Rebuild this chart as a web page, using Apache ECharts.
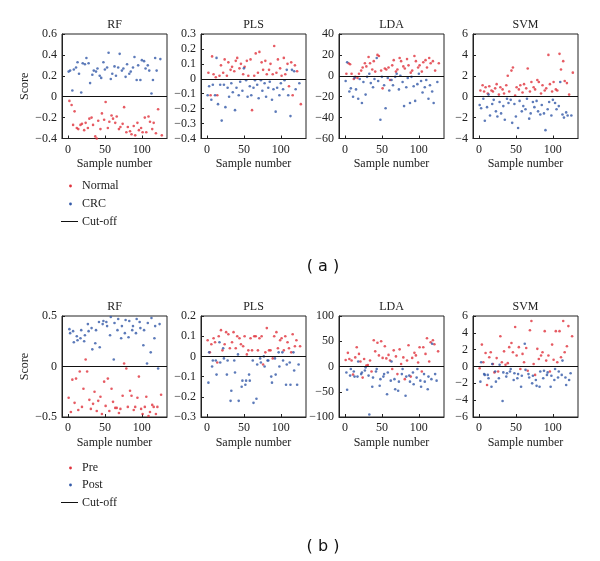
<!DOCTYPE html>
<html><head><meta charset="utf-8">
<script src="https://cdn.jsdelivr.net/npm/echarts@6/dist/echarts.min.js"></script>
<style>html,body{margin:0;padding:0;background:#fff}#c{width:600px;height:561px}</style>
</head><body><div id="c"></div>
<script>
// ---------- DATA ----------
const methods = ['RF', 'PLS', 'LDA', 'SVM'];
const xTicks = [0, 50, 100];

// (a) sample numbers
const xNormal = [2,5,7,9,12,14,17,19,22,24,27,29,32,34,37,39,41,44,46,49,51,54,56,59,61,64,66,69,71,74,76,79,81,84,86,89,91,94,96,99,101,104,106,109,111,114,116,119,122,127];
const xCRC = [1,3,6,8,11,13,15,18,20,23,25,28,30,33,35,38,40,43,45,48,50,53,55,58,60,63,65,68,70,73,75,78,80,83,85,88,90,93,95,98,100,103,105,108,110,113,115,118,120,125];

const rfNormal = [-0.04,-0.08,-0.27,-0.14,-0.30,-0.31,-0.27,-0.26,-0.32,-0.25,-0.30,-0.21,-0.20,-0.27,-0.38,-0.40,-0.23,-0.31,-0.16,-0.22,-0.05,-0.30,-0.24,-0.18,-0.21,-0.25,-0.19,-0.31,-0.29,-0.26,-0.10,-0.34,-0.29,-0.33,-0.36,-0.28,-0.37,-0.25,-0.32,-0.30,-0.34,-0.20,-0.34,-0.19,-0.24,-0.31,-0.25,-0.35,-0.12,-0.37];
const rfCRC = [0.24,0.25,0.06,0.26,0.28,0.33,0.22,0.04,0.32,0.31,0.37,0.32,0.13,0.21,0.25,0.24,0.27,0.20,0.18,0.33,0.26,0.28,0.42,0.17,0.22,0.29,0.20,0.28,0.41,0.25,0.27,0.19,0.31,0.22,0.24,0.28,0.38,0.16,0.30,0.16,0.35,0.34,0.27,0.30,0.25,0.03,0.16,0.37,0.25,0.36];
const plsNormal = [0.04,-0.11,0.15,0.03,0.01,-0.11,0.02,0.09,0.04,0.13,0.02,0.11,0.06,0.08,0.05,0.12,0.14,0.07,0.10,0.03,0.08,0.12,0.02,0.13,-0.21,0.02,0.17,0.04,0.18,0.11,0.06,0.12,0.03,0.06,0.10,0.03,0.22,0.04,0.13,0.07,0.02,0.14,0.03,0.10,-0.05,0.11,-0.11,0.09,0.05,-0.17];
const plsCRC = [-0.11,-0.05,-0.14,-0.04,-0.11,0.14,-0.17,-0.04,-0.28,-0.04,-0.19,-0.06,-0.12,-0.03,-0.09,-0.21,-0.06,-0.11,-0.02,-0.08,0.07,-0.01,-0.12,-0.05,-0.11,-0.06,-0.01,-0.04,-0.13,-0.01,-0.08,-0.03,-0.12,-0.06,-0.02,-0.14,-0.07,-0.22,-0.06,-0.11,-0.03,-0.07,-0.01,0.06,-0.11,-0.25,0.06,0.05,-0.07,-0.03];
const ldaNormal = [2,12,11,2,-3,-1,-2,2,5,8,12,9,18,12,6,14,4,20,19,5,-12,7,6,8,-4,10,15,4,6,17,14,9,7,16,10,3,5,19,14,8,10,4,13,15,8,17,12,14,5,12];
const ldaCRC = [-5,13,-15,-12,-20,-2,-13,-22,-3,-26,-6,-18,-1,2,-7,-11,-3,17,-5,-42,-1,-9,-31,-2,-14,-4,-9,-1,2,-13,0,-6,-29,-11,-2,-26,-1,-10,-24,-8,2,-5,-16,-11,-4,-22,-9,-15,-26,-6];
const svmNormal = [0.6,1.1,0.5,0.9,0.3,1.0,0.6,0.5,0.8,1.2,0.2,0.9,0.7,0.3,1.1,2.0,0.5,2.5,2.8,0.1,0.9,0.7,1.1,0.4,1.2,0.8,2.7,0.5,1.4,0.9,0.7,1.6,1.4,0.3,1.1,0.6,0.8,4.0,1.2,0.5,1.4,0.7,0.6,4.1,2.6,3.4,1.5,1.3,0.2,2.3];
const svmCRC = [-0.8,-1.1,-0.2,-2.3,-1.0,0.2,-1.8,-0.7,-0.3,-1.4,-1.9,-0.5,-1.6,-0.9,-2.2,-0.2,-0.6,-0.3,-2.5,-0.7,-1.9,-3.0,-0.4,-1.4,-0.9,-1.2,-0.2,-2.1,-1.6,-0.5,-1.0,-0.4,-1.4,-1.7,-0.8,-1.6,-3.2,-1.2,-0.5,-1.8,-0.3,-0.6,-1.2,-0.9,1.4,-1.7,-2.0,-1.5,-1.8,-1.8];

// (b) sample numbers
const xPre = [1,4,6,9,11,14,16,19,21,24,26,29,31,34,36,39,41,44,46,49,51,54,56,59,61,64,66,69,71,74,76,79,81,84,86,89,91,94,96,99,101,104,106,109,111,114,116,119,121,126];
const xPost = [2,3,7,8,12,13,17,18,22,23,27,28,32,33,37,38,42,43,47,48,52,53,57,58,62,63,67,68,72,73,77,78,82,83,87,88,92,93,97,98,102,103,107,108,112,113,117,118,122,124];

const rfPre = [-0.31,-0.45,-0.13,-0.36,-0.12,-0.43,-0.05,-0.40,-0.22,0.07,-0.05,-0.33,-0.42,-0.37,-0.25,-0.44,-0.34,-0.30,-0.47,-0.15,-0.39,-0.12,-0.44,-0.22,-0.35,-0.41,-0.41,-0.46,-0.42,-0.29,0.03,-0.02,-0.40,-0.24,-0.29,-0.43,-0.40,-0.31,-0.10,-0.42,-0.47,-0.40,-0.30,-0.49,-0.45,-0.38,-0.40,-0.47,-0.40,-0.28];
const rfPost = [0.37,0.33,0.35,0.24,0.30,0.26,0.28,0.36,0.25,0.31,0.42,0.35,0.38,0.17,0.23,0.36,0.44,0.19,0.42,0.45,0.44,0.40,0.31,0.49,0.07,0.43,0.36,0.47,0.28,0.40,0.33,0.46,0.29,0.45,0.36,0.40,0.33,0.47,0.44,0.38,0.21,0.36,0.03,0.43,0.14,0.48,0.28,0.40,-0.02,0.42];
const plsPre = [0.08,0.02,0.06,0.09,0.07,-0.03,0.10,0.13,0.03,0.06,0.12,0.11,0.04,0.07,0.12,0.04,0.10,0.09,0.06,0.05,0.10,0.01,0.03,0.09,0.03,0.10,0.10,0.03,0.09,0.10,-0.04,0.02,0.14,0.03,0.03,-0.01,0.10,0.12,0.04,0.08,0.09,0.03,0.10,0.07,0.04,0.02,0.11,0.05,0.08,0.05];
const plsPost = [-0.13,0.02,-0.05,-0.02,-0.02,-0.09,0.07,-0.03,0.04,-0.01,-0.09,-0.02,-0.22,-0.17,-0.02,-0.08,0.01,-0.22,-0.15,-0.12,-0.14,-0.12,-0.09,-0.12,-0.02,-0.23,-0.21,-0.04,-0.01,-0.03,0.00,-0.05,-0.02,-0.02,-0.10,-0.13,-0.01,-0.09,0.02,-0.05,0.02,-0.02,-0.14,-0.04,-0.03,-0.14,0.02,-0.07,-0.14,-0.04];
const ldaPre = [13,27,15,12,-16,18,38,25,10,-22,15,2,3,12,-10,52,30,47,22,50,17,40,16,23,12,-5,32,20,-15,34,5,18,-25,12,42,-20,17,27,22,8,38,-10,38,25,56,10,48,52,44,30];
const ldaPost = [-12,-46,-18,-5,-10,-20,-20,10,-15,-12,-8,-2,-18,-95,-40,-22,-10,-5,-38,-25,-20,-15,-55,-12,-28,10,-25,-45,-48,-30,-15,-5,-58,-20,-18,-30,-12,-35,-22,-5,-28,-40,-15,-30,-45,-20,-25,45,-15,-28];
const svmPre = [-0.2,2.6,0.5,1.6,-2.2,1.1,1.7,0.3,-0.7,1.0,-0.6,3.6,0.5,1.8,0.2,0.4,2.3,2.8,1.7,4.7,1.3,2.3,-0.3,1.5,0.5,2.2,-0.5,4.3,5.4,0.3,-1.0,2.1,0.9,1.3,1.7,4.2,0.7,1.3,-0.6,2.6,0.8,4.2,0.5,4.2,1.1,5.4,1.7,2.4,4.8,3.6];
const svmPost = [-1.8,0.5,-0.9,-1.0,-1.0,-1.4,-2.4,0.3,-0.6,-1.8,-1.4,0.2,-4.1,-0.7,-1.2,-0.8,-0.6,-0.3,-1.6,-0.8,-1.4,-0.9,-2.4,-1.1,2.7,-0.4,-0.9,-1.3,-2.0,-1.1,-1.6,-2.3,-2.4,-0.6,-1.4,-0.5,-1.0,-0.7,-2.4,-1.1,-1.6,-0.3,-1.3,-0.6,-1.0,0.7,-1.3,-2.2,-1.6,-0.8];

// y-axis ranges
const yRangesA = [[-0.4,0.6,0.2],[-0.4,0.3,0.1],[-60,40,20],[-4,6,2]];
const yRangesB = [[-0.5,0.5,0.5],[-0.3,0.2,0.1],[-100,100,50],[-6,6,2]];

const legendA = ['Normal', 'CRC', 'Cut-off'];
const legendB = ['Pre', 'Post', 'Cut-off'];

// ---------- LAYOUT / STYLE ----------
const RED = '#e0323c', BLUE = '#3359a8', AX = '#222';
const SERIF = 'Liberation Serif';
const colLeft = [62, 201, 339, 473], colW = 105;
const rows = [{top: 34, h: 104.5, titleTop: 19, xNameGap: 19, yNameGap: 27}, {top: 316, h: 101, titleTop: 301, xNameGap: 20, yNameGap: 30}];

const panelData = [
  [[xNormal, rfNormal, xCRC, rfCRC], [xNormal, plsNormal, xCRC, plsCRC], [xNormal, ldaNormal, xCRC, ldaCRC], [xNormal, svmNormal, xCRC, svmCRC]],
  [[xPre, rfPre, xPost, rfPost], [xPre, plsPre, xPost, plsPost], [xPre, ldaPre, xPost, ldaPost], [xPre, svmPre, xPost, svmPost]]
];
const yRanges = [yRangesA, yRangesB];
const names = [legendA, legendB];

function fmt(v) {
  if (Math.abs(v) < 1e-9) return '0';
  return String(Math.round(v * 100) / 100).replace('-', '\u2212');
}
function zip(xs, ys) { return xs.map((x, i) => [x, ys[i]]); }

const grid = [], xAxis = [], yAxis = [], series = [], title = [];
let gi = 0;
for (let r = 0; r < 2; r++) {
  for (let c = 0; c < 4; c++) {
    const R = rows[r];
    grid.push({left: colLeft[c], top: R.top, width: colW, height: R.h, show: true, borderColor: AX, borderWidth: 1, containLabel: false});
    title.push({text: methods[c], left: colLeft[c] + colW / 2, top: R.titleTop, textAlign: 'center', padding: 0,
      textStyle: {fontFamily: SERIF, fontSize: 12, fontWeight: 'normal', color: AX}});
    xAxis.push({type: 'value', gridIndex: gi, min: -8, max: 134,
      name: 'Sample number', nameLocation: 'middle', nameGap: R.xNameGap,
      nameTextStyle: {fontFamily: SERIF, fontSize: 12, color: AX},
      axisLine: {show: true, onZero: false, lineStyle: {color: AX}},
      axisTick: {show: true, inside: true, length: 3, customValues: xTicks, lineStyle: {color: AX}},
      axisLabel: {customValues: xTicks, fontFamily: SERIF, fontSize: 12, color: AX, margin: 5},
      splitLine: {show: false}});
    const yr = yRanges[r][c];
    yAxis.push({type: 'value', gridIndex: gi, min: yr[0], max: yr[1], interval: yr[2],
      name: c === 0 ? 'Score' : '', nameLocation: 'middle', nameRotate: 90, nameGap: R.yNameGap,
      nameTextStyle: {fontFamily: SERIF, fontSize: 12, color: AX},
      axisLine: {show: true, onZero: false, lineStyle: {color: AX}},
      axisTick: {show: true, inside: true, length: 3, lineStyle: {color: AX}},
      axisLabel: {formatter: fmt, fontFamily: SERIF, fontSize: 12, color: AX, margin: 5},
      splitLine: {show: false}});
    const d = panelData[r][c];
    series.push({type: 'scatter', name: names[r][0], xAxisIndex: gi, yAxisIndex: gi, data: zip(d[0], d[1]),
      symbolSize: 2.6, itemStyle: {color: RED}, silent: true,
      markLine: {silent: true, symbol: 'none', label: {show: false}, lineStyle: {color: '#111', width: 1, type: 'solid'},
        data: [{yAxis: 0}]}});
    series.push({type: 'scatter', name: names[r][1], xAxisIndex: gi, yAxisIndex: gi, data: zip(d[2], d[3]),
      symbolSize: 2.6, itemStyle: {color: BLUE}, silent: true});
    gi++;
  }
}

// legends + captions as graphic elements
const graphic = [];
const legRows = [[186, 204, 221.5], [468, 485, 502.5]];
const caps = ['( a )', '( b )'];
const capY = [267, 547];
for (let r = 0; r < 2; r++) {
  const ys = legRows[r];
  graphic.push({type: 'circle', shape: {cx: 70.5, cy: ys[0], r: 1.4}, style: {fill: RED}});
  graphic.push({type: 'circle', shape: {cx: 70.5, cy: ys[1], r: 1.4}, style: {fill: BLUE}});
  graphic.push({type: 'line', shape: {x1: 61, y1: ys[2], x2: 78, y2: ys[2]}, style: {stroke: '#111', lineWidth: 1}});
  for (let k = 0; k < 3; k++) {
    graphic.push({type: 'text', x: 82, y: ys[k], style: {text: names[r][k], font: '12px "Liberation Serif"', fill: AX, verticalAlign: 'middle'}});
  }
  graphic.push({type: 'text', x: 323, y: capY[r], style: {text: caps[r], font: '16px "DejaVu Sans"', fill: '#111', align: 'center', verticalAlign: 'middle'}});
}

const chart = echarts.init(document.getElementById('c'), null, {renderer: 'canvas'});
chart.setOption({animation: false, backgroundColor: '#fff', title, grid, xAxis, yAxis, series, graphic});
</script>
</body></html>
